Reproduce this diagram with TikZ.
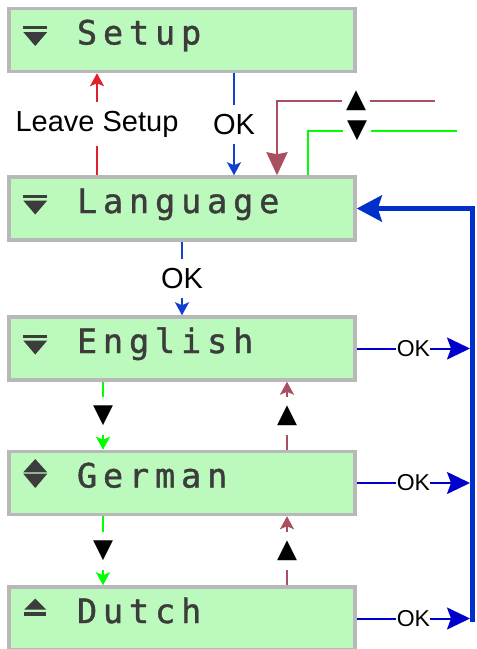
\documentclass[tikz,border=0pt]{standalone}
\usepackage{fontspec}
\setmainfont{Liberation Sans}
\newfontfamily\lcdfont[LetterSpace=17.5,FakeBold=1.2]{DejaVu Sans Mono}
\newfontfamily\symfont{DejaVu Sans}
\usetikzlibrary{arrows.meta}
\definecolor{lcdgreen}{RGB}{188,249,188}
\definecolor{lcdframe}{RGB}{184,184,184}
\definecolor{lcdtext}{RGB}{60,60,60}
\definecolor{okblue}{RGB}{16,64,208}
\definecolor{selblue}{RGB}{0,0,204}
\definecolor{railblue}{RGB}{0,48,204}
\definecolor{leavered}{RGB}{224,32,42}
\definecolor{upred}{RGB}{168,80,96}
\definecolor{downgreen}{RGB}{0,255,0}
\begin{document}
\begin{tikzpicture}[x=1pt,y=-1pt,
  lcd/.style={draw=lcdframe,line width=3.5pt,fill=lcdgreen,
    minimum width=346pt,minimum height=63pt,inner xsep=68pt,
    text width=210pt,align=left,text height=23pt,text depth=14pt,
    text=lcdtext,font=\lcdfont\fontsize{33.5}{36}\selectfont},
  keylabel/.style={fill=white,text=black,inner xsep=4pt,inner ysep=9pt,
    font=\fontsize{29}{32}\selectfont},
  oklabel/.style={fill=white,text=black,inner xsep=0.5pt,inner ysep=2pt,
    font=\fontsize{23}{26}\selectfont},
  symlabel/.style={fill=white,text=black,inner xsep=4pt,inner ysep=9pt,
    font=\symfont\fontsize{26}{28}\selectfont},
  thinarrow/.style={line width=2pt,-{Stealth[length=13pt,width=14pt,inset=3pt]}},
  okarrow/.style={selblue,line width=2pt,-{Stealth[length=23pt,width=22pt,inset=4pt]}},
  menudown/.pic={
    \fill[lcdtext] (-12,-14) rectangle (12,-11);
    \fill[lcdtext] (-12,-8) -- (12,-8) -- (0,6) -- cycle;
  },
  menuboth/.pic={
    \fill[lcdtext] (-12,-10.7) -- (12,-10.7) -- (0,-24) -- cycle;
    \fill[lcdtext] (-12,-9.3) -- (12,-9.3) -- (0,5) -- cycle;
  },
  menuup/.pic={
    \fill[lcdtext] (-11,-9) -- (11,-9) -- (0,-20) -- cycle;
    \fill[lcdtext] (-11,-7) rectangle (11,-2.5);
  }]
  \useasboundingbox (0,0) rectangle (477,649);

  % Menu screens
  \node[lcd] (setup) at (182,40) {Setup};
  \node[lcd] (language) at (182,208.5) {Language};
  \node[lcd] (english) at (182,348.5) {English};
  \node[lcd] (german) at (182,483) {German};
  \node[lcd] (dutch) at (182,618.5) {Dutch};

  % Scroll marks
  \pic at ([xshift=28pt]setup.west) {menudown};
  \pic at ([xshift=28pt]language.west) {menudown};
  \pic at ([xshift=28pt]english.west) {menudown};
  \pic at ([xshift=28pt]german.west) {menuboth};
  \pic at ([xshift=28pt]dutch.west) {menuup};

  % Columns and corners
  \coordinate (leavex) at (97,0);
  \coordinate (okx) at (234,0);
  \coordinate (dnx) at (103,0);
  \coordinate (upx) at (287,0);
  \coordinate (railx) at (470,0);
  \coordinate (railend) at (472.5,622);
  \coordinate (upstart) at (435,101);
  \coordinate (upturn) at (277,101);
  \coordinate (dnstart) at (457,131);
  \coordinate (dnturn) at (308,131);

  % Enter and leave
  \draw[thinarrow,leavered] (language.north -| leavex) -- node[keylabel] {Leave Setup} (setup.south -| leavex);
  \draw[thinarrow,okblue] (setup.south -| okx) -- node[keylabel] {OK} (language.north -| okx);
  \draw[thinarrow,okblue] (language) -- node[keylabel] {OK} (english);

  % Up and down keys
  \draw[upred,line width=2.5pt,-{Stealth[length=23pt,width=21pt,inset=2pt]}]
    (upstart) -- node[symlabel,inner ysep=2pt] {▲} (upturn) -- (upturn |- language.north);
  \draw[downgreen,line width=2pt]
    (dnstart) -- node[symlabel,inner ysep=2pt,pos=0.67] {▼} (dnturn) -- (dnturn |- language.north);
  \draw[thinarrow,downgreen] (english.south -| dnx) -- node[symlabel] {▼} (german.north -| dnx);
  \draw[thinarrow,upred] (german.north -| upx) -- node[symlabel] {▲} (english.south -| upx);
  \draw[thinarrow,downgreen] (german.south -| dnx) -- node[symlabel] {▼} (dutch.north -| dnx);
  \draw[thinarrow,upred] (dutch.north -| upx) -- node[symlabel] {▲} (german.south -| upx);

  % Back to language
  \draw[railblue,line width=5.5pt,-{Stealth[length=25pt,width=26pt,inset=4pt]}] (railend) |- (language.east);
  \draw[okarrow] (english.east) -- node[oklabel] {OK} (english.east -| railx);
  \draw[okarrow] (german.east) -- node[oklabel] {OK} (german.east -| railx);
  \draw[okarrow] (dutch.east) -- node[oklabel] {OK} (dutch.east -| railx);
\end{tikzpicture}
\end{document}
